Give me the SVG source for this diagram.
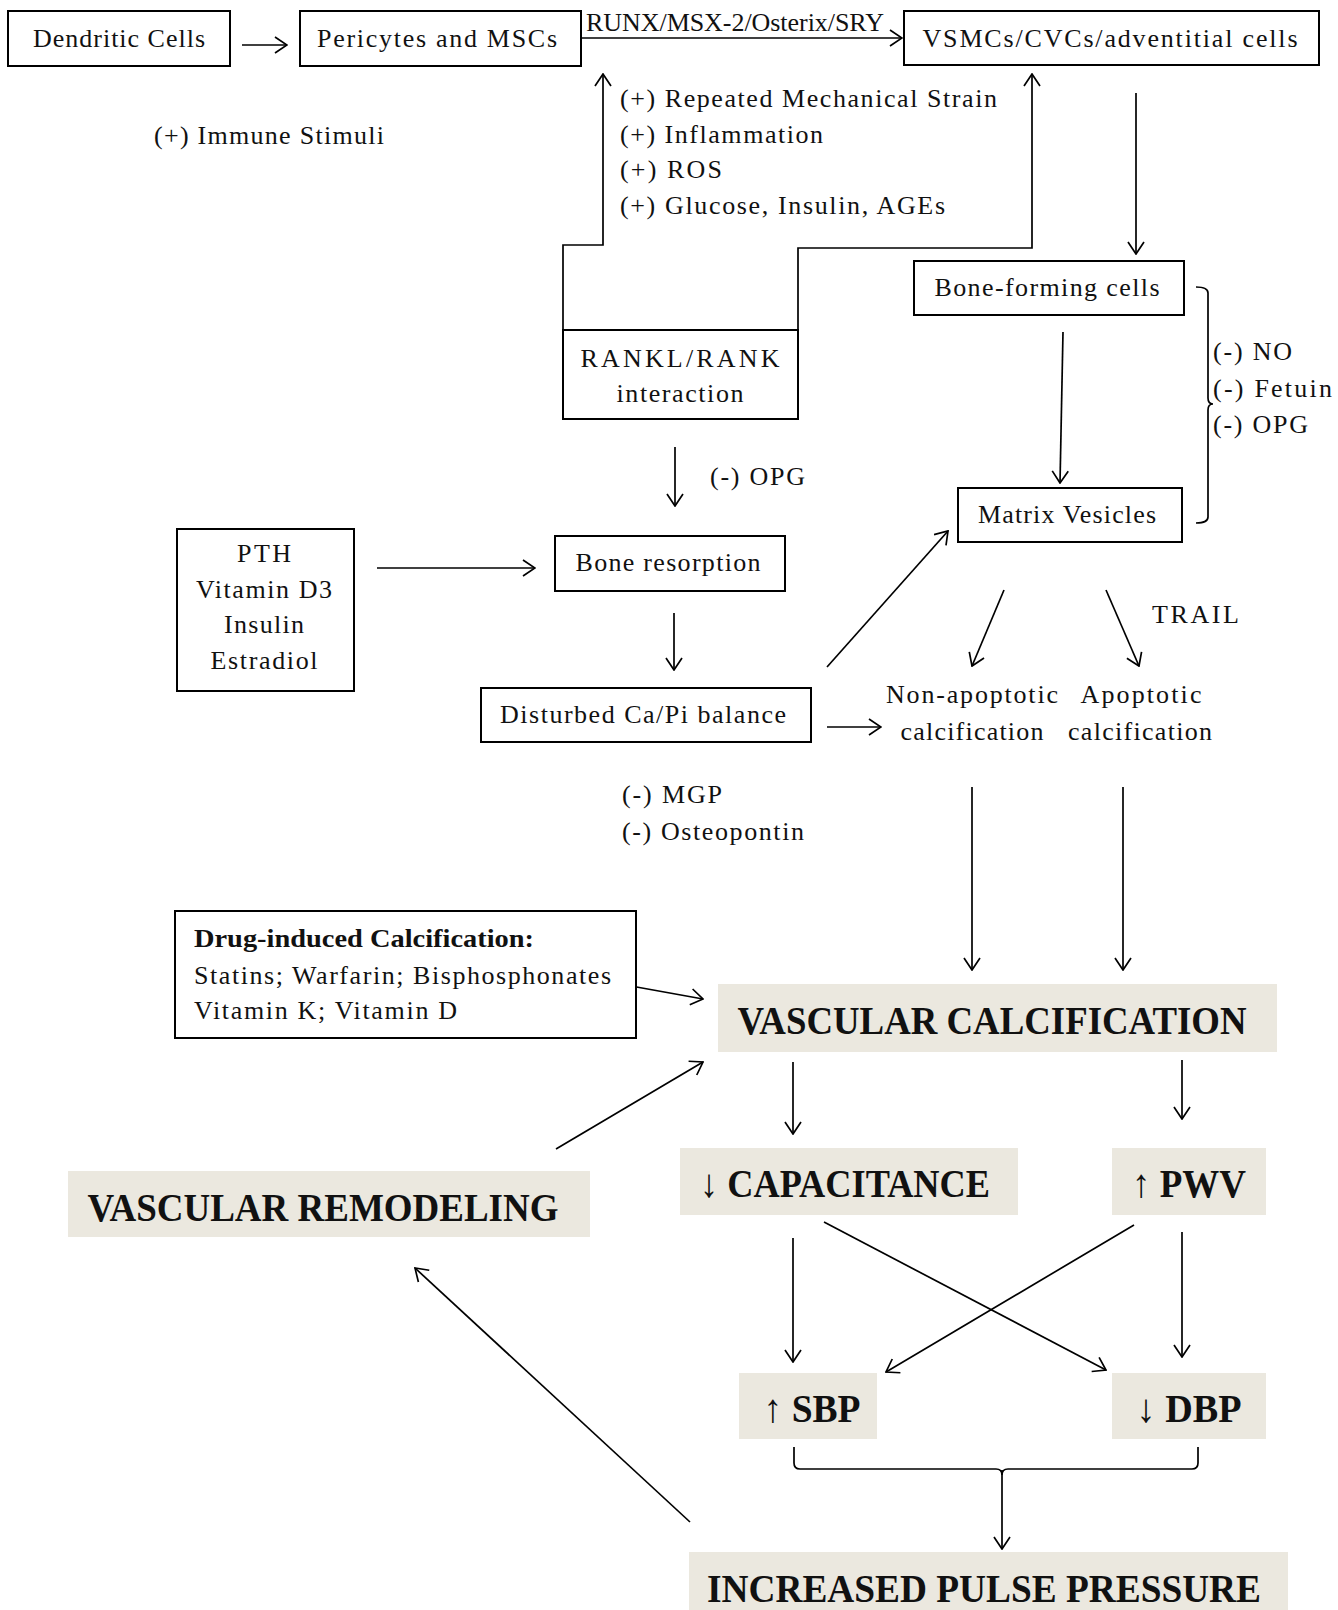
<svg xmlns="http://www.w3.org/2000/svg" width="1338" height="1610" viewBox="0 0 1338 1610">
<style>
.bx{fill:#fff;stroke:#000;stroke-width:2}
.hb{fill:#ebe8df;stroke:none}
.t{font-family:"Liberation Serif","Times New Roman",serif;font-size:26px;fill:#111}
.c{text-anchor:middle}
.h{font-family:"Liberation Serif","Times New Roman",serif;font-size:40px;font-weight:bold;fill:#111}
.ln{fill:none;stroke:#000;stroke-width:1.7}
.ar{marker-end:url(#ah)}
</style>
<defs>
<marker id="ah" viewBox="0 0 14 18" refX="13" refY="9" markerWidth="14" markerHeight="18" markerUnits="userSpaceOnUse" orient="auto">
<path d="M1,1 L13,9 L1,17" fill="none" stroke="#000" stroke-width="1.7"/>
</marker>
</defs>

<g id="connectors">
<line class="ln ar" x1="242" y1="45" x2="287" y2="45"/>
<line class="ln ar" x1="582" y1="38" x2="902" y2="38"/>
<path class="ln ar" d="M563,330 V245 H603 V74"/>
<path class="ln ar" d="M798,330 V248 H1032 V74"/>
<line class="ln ar" x1="1136" y1="93" x2="1136" y2="254"/>
<line class="ln ar" x1="1063" y1="332" x2="1060" y2="483"/>
<path class="ln" d="M1196,287 Q1208,287 1208,293 V398 Q1208,404 1213,404 Q1208,404 1208,410 V517 Q1208,523 1196,523"/>
<line class="ln ar" x1="675" y1="447" x2="675" y2="506"/>
<line class="ln ar" x1="377" y1="568" x2="535" y2="568"/>
<line class="ln ar" x1="674" y1="613" x2="674" y2="670"/>
<line class="ln ar" x1="827" y1="727" x2="881" y2="727"/>
<line class="ln ar" x1="827" y1="667" x2="948" y2="531"/>
<line class="ln ar" x1="1004" y1="590" x2="972" y2="666"/>
<line class="ln ar" x1="1106" y1="590" x2="1139" y2="666"/>
<line class="ln ar" x1="972" y1="787" x2="972" y2="970"/>
<line class="ln ar" x1="1123" y1="787" x2="1123" y2="970"/>
<line class="ln ar" x1="631" y1="986" x2="703" y2="999"/>
<line class="ln ar" x1="556" y1="1149" x2="703" y2="1062"/>
<line class="ln ar" x1="793" y1="1062" x2="793" y2="1134"/>
<line class="ln ar" x1="1182" y1="1060" x2="1182" y2="1119"/>
<line class="ln ar" x1="793" y1="1238" x2="793" y2="1362"/>
<line class="ln ar" x1="824" y1="1222" x2="1106" y2="1370"/>
<line class="ln ar" x1="1134" y1="1225" x2="886" y2="1372"/>
<line class="ln ar" x1="1182" y1="1232" x2="1182" y2="1357"/>
<path class="ln" d="M794,1447 V1463 Q794,1469 800,1469 H996 Q1002,1469 1002,1475 Q1002,1469 1008,1469 H1192 Q1198,1469 1198,1463 V1447"/>
<line class="ln ar" x1="1002" y1="1470" x2="1002" y2="1549"/>
<line class="ln ar" x1="690" y1="1522" x2="415" y2="1268"/>
</g>

<g id="labels">
<text class="t" x="586" y="31" font-size="23" textLength="298">RUNX/MSX-2/Osterix/SRY</text>
<text class="t" x="154" y="144" textLength="230">(+) Immune Stimuli</text>
<text class="t" x="620" y="107" textLength="377">(+) Repeated Mechanical Strain</text>
<text class="t" x="620" y="143" textLength="203">(+) Inflammation</text>
<text class="t" x="620" y="178" textLength="102">(+) ROS</text>
<text class="t" x="620" y="214" textLength="325">(+) Glucose, Insulin, AGEs</text>
<text class="t" x="710" y="485" textLength="95">(-) OPG</text>
<text class="t" x="1213" y="360" textLength="79">(-) NO</text>
<text class="t" x="1213" y="397" textLength="119">(-) Fetuin</text>
<text class="t" x="1213" y="433" textLength="95">(-) OPG</text>
<text class="t" x="622" y="803" textLength="100">(-) MGP</text>
<text class="t" x="622" y="840" textLength="182">(-) Osteopontin</text>
<text class="t" x="1152" y="623" textLength="87">TRAIL</text>
</g>

<g id="n-dendritic"><rect class="bx" x="8" y="11" width="222" height="55"/><text class="t c" x="119" y="47" textLength="172">Dendritic Cells</text></g>
<g id="n-pericytes"><rect class="bx" x="300" y="11" width="281" height="55"/><text class="t c" x="437" y="47" textLength="240">Pericytes and MSCs</text></g>
<g id="n-vsmc"><rect class="bx" x="904" y="11" width="415" height="54"/><text class="t c" x="1110" y="47" textLength="375">VSMCs/CVCs/adventitial cells</text></g>
<g id="n-boneforming"><rect class="bx" x="914" y="261" width="270" height="54"/><text class="t c" x="1047" y="296" textLength="225">Bone-forming cells</text></g>
<g id="n-rankl"><rect class="bx" x="563" y="330" width="235" height="89"/><text class="t c" x="680" y="367" textLength="199">RANKL/RANK</text><text class="t c" x="680" y="402" textLength="127">interaction</text></g>
<g id="n-matrix"><rect class="bx" x="958" y="488" width="224" height="54"/><text class="t c" x="1067" y="523" textLength="178">Matrix Vesicles</text></g>
<g id="n-pth"><rect class="bx" x="177" y="529" width="177" height="162"/>
<text class="t c" x="264" y="562" textLength="54">PTH</text>
<text class="t c" x="264" y="598" textLength="136">Vitamin D3</text>
<text class="t c" x="264" y="633" textLength="80">Insulin</text>
<text class="t c" x="264" y="669" textLength="107">Estradiol</text></g>
<g id="n-boneresorption"><rect class="bx" x="555" y="536" width="230" height="55"/><text class="t c" x="668" y="571" textLength="185">Bone resorption</text></g>
<g id="n-disturbed"><rect class="bx" x="481" y="688" width="330" height="54"/><text class="t c" x="643" y="723" textLength="286">Disturbed Ca/Pi balance</text></g>
<g id="n-nonapoptotic"><text class="t c" x="972" y="703" textLength="172">Non-apoptotic</text><text class="t c" x="972" y="740" textLength="143">calcification</text></g>
<g id="n-apoptotic"><text class="t c" x="1141" y="703" textLength="121">Apoptotic</text><text class="t c" x="1140" y="740" textLength="144">calcification</text></g>
<g id="n-drug"><rect class="bx" x="175" y="911" width="461" height="127"/>
<text class="t" x="194" y="947" font-size="24" font-weight="bold" textLength="340" lengthAdjust="spacingAndGlyphs">Drug-induced Calcification:</text>
<text class="t" x="194" y="984" textLength="417">Statins; Warfarin; Bisphosphonates</text>
<text class="t" x="194" y="1019" textLength="263">Vitamin K; Vitamin D</text></g>
<g id="n-vc"><rect class="hb" x="718" y="984" width="559" height="68"/><text class="h c" x="992" y="1034" textLength="509" lengthAdjust="spacingAndGlyphs">VASCULAR CALCIFICATION</text></g>
<g id="n-cap"><rect class="hb" x="680" y="1148" width="338" height="67"/><text class="h c" x="845" y="1197" font-size="38" textLength="290" lengthAdjust="spacingAndGlyphs">↓ CAPACITANCE</text></g>
<g id="n-pwv"><rect class="hb" x="1112" y="1148" width="154" height="67"/><text class="h c" x="1189" y="1197" font-size="38" textLength="114" lengthAdjust="spacingAndGlyphs">↑ PWV</text></g>
<g id="n-vr"><rect class="hb" x="68" y="1171" width="522" height="66"/><text class="h c" x="323" y="1221" textLength="471" lengthAdjust="spacingAndGlyphs">VASCULAR REMODELING</text></g>
<g id="n-sbp"><rect class="hb" x="739" y="1373" width="138" height="66"/><text class="h c" x="812" y="1422" font-size="36" textLength="97" lengthAdjust="spacingAndGlyphs">↑ SBP</text></g>
<g id="n-dbp"><rect class="hb" x="1112" y="1373" width="154" height="66"/><text class="h c" x="1189" y="1422" font-size="36" textLength="105" lengthAdjust="spacingAndGlyphs">↓ DBP</text></g>
<g id="n-ipp"><rect class="hb" x="689" y="1552" width="599" height="58"/><text class="h c" x="984" y="1602" font-size="42" textLength="554" lengthAdjust="spacingAndGlyphs">INCREASED PULSE PRESSURE</text></g>
</svg>
